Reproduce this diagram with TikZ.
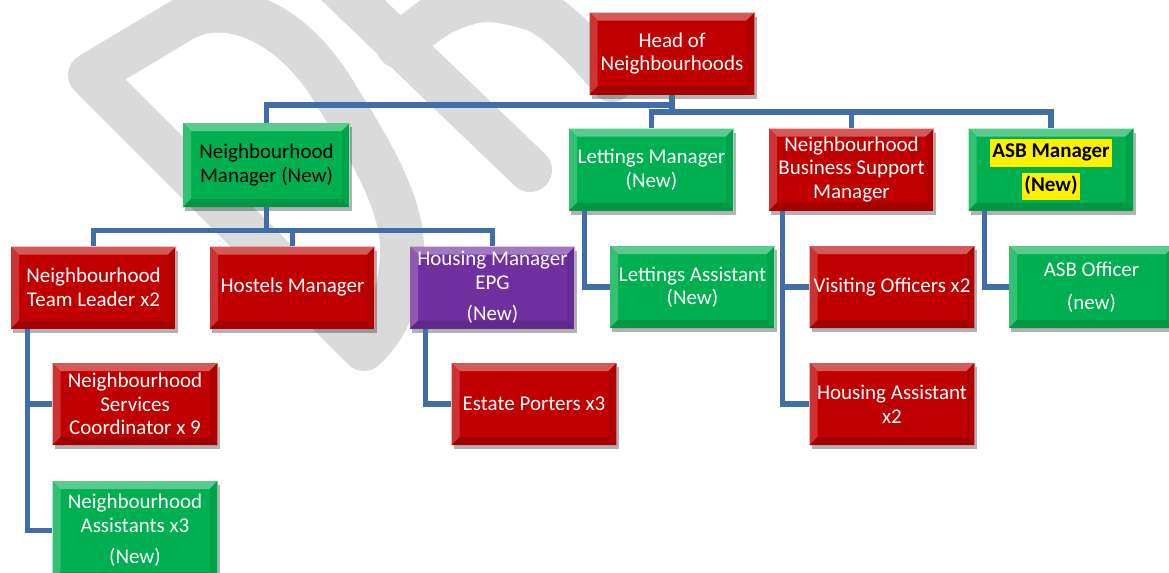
\documentclass[tikz,border=0pt]{standalone}
\usepackage{fontspec}
\setmainfont{Carlito}
\usetikzlibrary{shadows}

\definecolor{boxred}{RGB}{192,0,0}
\definecolor{boxgreen}{RGB}{0,176,80}
\definecolor{boxpurple}{RGB}{112,48,160}
\definecolor{linkblue}{RGB}{65,110,168}
\definecolor{wmgrey}{RGB}{218,218,218}

% yellow text highlight
\newcommand{\hilite}[1]{{\setlength{\fboxsep}{1pt}\colorbox{yellow}{\strut #1}}}

\tikzset{
    bevel/.style={path picture={
        \fill[#1!65!white] (path picture bounding box.north west) -- (path picture bounding box.north east)
            -- ([shift={(-4pt,-4pt)}]path picture bounding box.north east)
            -- ([shift={(4pt,-4pt)}]path picture bounding box.north west) -- cycle;
        \fill[#1!80!white] (path picture bounding box.north west) -- (path picture bounding box.south west)
            -- ([shift={(4pt,4pt)}]path picture bounding box.south west)
            -- ([shift={(4pt,-4pt)}]path picture bounding box.north west) -- cycle;
        \fill[#1!85!black] (path picture bounding box.south west) -- (path picture bounding box.south east)
            -- ([shift={(-4pt,4pt)}]path picture bounding box.south east)
            -- ([shift={(4pt,4pt)}]path picture bounding box.south west) -- cycle;
        \fill[#1!92!black] (path picture bounding box.north east) -- (path picture bounding box.south east)
            -- ([shift={(-4pt,4pt)}]path picture bounding box.south east)
            -- ([shift={(-4pt,-4pt)}]path picture bounding box.north east) -- cycle;
        \draw[white, opacity=.6, line width=0.8pt] (path picture bounding box.north east)
            -- (path picture bounding box.south east);
    }},
    rolebox/.style={rectangle, fill=#1, bevel=#1, minimum width=82.5pt, minimum height=41pt,
        inner sep=0pt, align=center, text=white, font=\fontsize{10.5}{11.8}\selectfont,
        drop shadow={shadow xshift=1pt, shadow yshift=-2pt, opacity=.3, fill=black}},
    link/.style={draw=linkblue, line width=2.6pt},
    wm/.style={draw=wmgrey, line width=22pt, line cap=round, line join=round}
}

\begin{document}
\begin{tikzpicture}[x=0.5pt,y=-0.5pt]
    \useasboundingbox (0,0) rectangle (1169,573);
    \clip (0,0) rectangle (1169,573);

    % watermark strokes
    \draw[wm] (364,349) -- (90,75) -- (182,20) .. controls (225,-5) and (290,20) .. (333,90)
        .. controls (360,135) and (405,200) .. (402,255) .. controls (400,300) and (385,330) .. (364,349) -- cycle;
    \draw[wm] (330,-22) -- (530,170);
    \draw[wm] plot[smooth] coordinates {(398,46) (440,14) (486,0) (540,12) (580,44) (612,80)};

    % top
    \node[rolebox=boxred] (head) at (672,53.5) {Head of\\Neighbourhoods};

    % managers
    \node[rolebox=boxgreen, text=black, minimum width=83.5pt, minimum height=42pt] (nm) at (266.5,165) {Neighbourhood\\Manager (New)};
    \node[rolebox=boxgreen] (lm) at (651.5,169.5) {Lettings Manager\\(New)};
    \node[rolebox=boxred] (nbsm) at (851.5,169.5) {Neighbourhood\\Business Support\\Manager};
    \node[rolebox=boxgreen, text=black] (asbm) at (1051,169.5) {\hilite{\bfseries ASB Manager}\\[2pt]\hilite{\bfseries (New)}};

    % teams
    \node[rolebox=boxred] (ntl) at (93.5,287.5) {Neighbourhood\\Team Leader x2};
    \node[rolebox=boxred] (hostel) at (292.5,287.5) {Hostels Manager};
    \node[rolebox=boxpurple] (hmepg) at (492.5,287.5) {Housing Manager\\EPG\\[4pt](New)};
    \node[rolebox=boxred] (nsc) at (135,404) {Neighbourhood\\Services\\Coordinator x 9};
    \node[rolebox=boxgreen, minimum height=49.5pt] (na) at (135,530.5) {Neighbourhood\\Assistants x3\\[4pt](New)};
    \node[rolebox=boxred] (estate) at (534,404) {Estate Porters x3};
    \node[rolebox=boxgreen] (la) at (692.5,287) {Lettings Assistant\\(New)};
    \node[rolebox=boxred] (vo) at (892,287) {Visiting Officers x2};
    \node[rolebox=boxred] (ha) at (892,404) {Housing Assistant\\x2};
    \node[rolebox=boxgreen] (asbo) at (1091.5,287) {ASB Officer\\[5pt](new)};

    % connectors
    \draw[link] (head.south) -- ++(0,10) -| (nm.north);
    \draw[link] (head.south) -- ++(0,17) coordinate (rbus);
    \draw[link] (lm.north) |- (rbus) -| (asbm.north);
    \draw[link] (nbsm.north) -- (nbsm.north |- rbus);
    \draw[link] (nm.south) -- ++(0,23) coordinate (nmbus);
    \draw[link] (ntl.north) |- (nmbus) -| (hmepg.north);
    \draw[link] (hostel.north) -- (hostel.north |- nmbus);
    \draw[link] ([xshift=8.5pt]ntl.south west) |- (nsc.west);
    \draw[link] ([xshift=8.5pt]ntl.south west) |- (na.west);
    \draw[link] ([xshift=8pt]hmepg.south west) |- (estate.west);
    \draw[link] ([xshift=8pt]lm.south west) |- (la.west);
    \draw[link] ([xshift=7pt]nbsm.south west) |- (vo.west);
    \draw[link] ([xshift=7pt]nbsm.south west) |- (ha.west);
    \draw[link] ([xshift=8pt]asbm.south west) |- (asbo.west);
\end{tikzpicture}
\end{document}
